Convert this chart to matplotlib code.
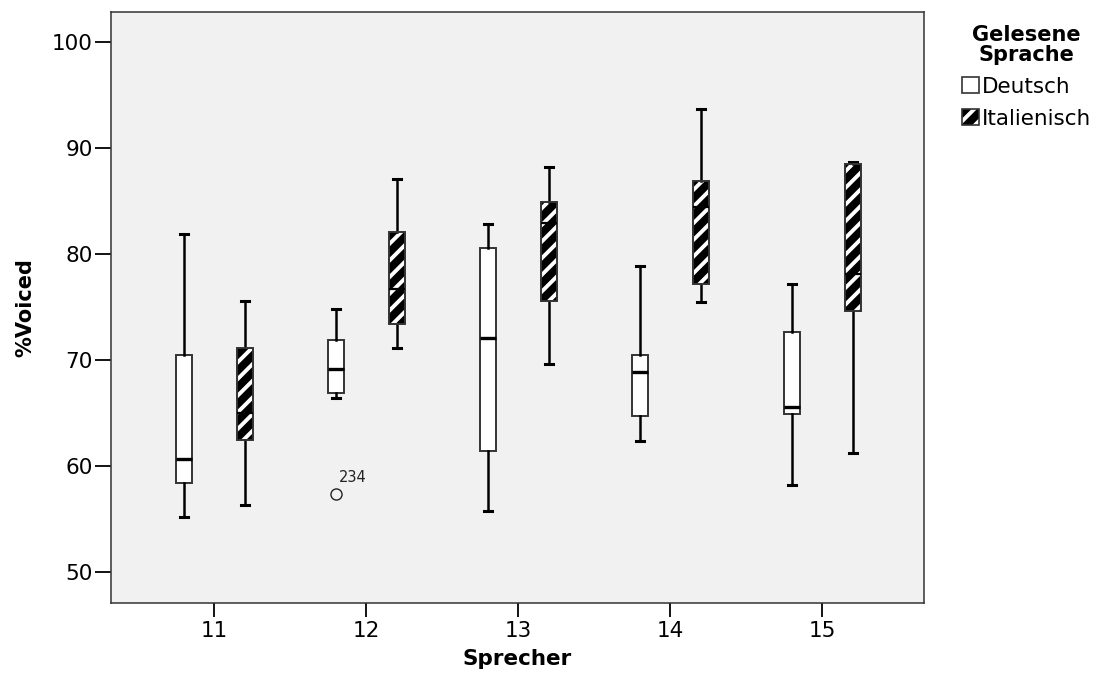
import matplotlib
matplotlib.use("Agg")
import matplotlib.pyplot as plt
from matplotlib.patches import Patch

# Five-number summaries (whisker low, Q1, median, Q3, whisker high)
speakers = [11, 12, 13, 14, 15]
deutsch_low = [55.2, 66.4, 55.8, 62.4, 58.2]
deutsch_q1 = [58.4, 66.9, 61.4, 64.7, 64.9]
deutsch_med = [60.7, 69.2, 72.1, 68.9, 65.6]
deutsch_q3 = [70.5, 71.9, 80.6, 70.5, 72.6]
deutsch_high = [81.9, 74.8, 82.8, 78.9, 77.2]
deutsch_outliers = [[], [57.4], [], [], []]
deutsch_outlier_ids = [[], ["234"], [], [], []]

ital_low = [56.3, 71.1, 69.6, 75.5, 61.2]
ital_q1 = [62.5, 73.4, 75.6, 77.2, 74.6]
ital_med = [65.0, 76.7, 82.9, 84.4, 78.1]
ital_q3 = [71.1, 82.1, 84.9, 86.9, 88.5]
ital_high = [75.6, 87.1, 88.2, 93.7, 88.7]

y_ticks = [50, 60, 70, 80, 90, 100]
legend_labels = ["Deutsch", "Italienisch"]


def make_stats(low, q1, med, q3, high, outliers=None):
    stats = []
    for i in range(len(low)):
        stats.append({
            "whislo": low[i], "q1": q1[i], "med": med[i],
            "q3": q3[i], "whishi": high[i],
            "fliers": outliers[i] if outliers else [],
        })
    return stats


plt.rcParams["hatch.linewidth"] = 2.8
plt.rcParams["font.family"] = "DejaVu Sans"

fig = plt.figure(figsize=(11.18, 6.87), dpi=100)
ax = fig.add_axes([0.0993, 0.1223, 0.7272, 0.8602])
ax.set_facecolor("#f0f1f0")

offset = 0.2
width = 0.105
pos_de = [s - offset for s in speakers]
pos_it = [s + offset for s in speakers]

whisk = dict(color="black", linewidth=1.8)
cap = dict(color="black", linewidth=2.2)
med = dict(color="black", linewidth=2.4)
flier = dict(marker="o", markersize=8, markerfacecolor="none",
             markeredgecolor="#222222", markeredgewidth=1.0)

# Deutsch: plain white boxes
ax.bxp(make_stats(deutsch_low, deutsch_q1, deutsch_med, deutsch_q3,
                  deutsch_high, deutsch_outliers),
       positions=pos_de, widths=width, patch_artist=True, showfliers=True,
       boxprops=dict(facecolor="white", edgecolor="#333333", linewidth=1.4),
       whiskerprops=whisk, capprops=cap, medianprops=med, flierprops=flier,
       capwidths=width * 0.5, manage_ticks=False)

# Italienisch: black boxes with white diagonal stripes, drawn twice for the outline
it_stats = make_stats(ital_low, ital_q1, ital_med, ital_q3, ital_high)
ax.bxp(it_stats, positions=pos_it, widths=width, patch_artist=True,
       showfliers=False,
       boxprops=dict(facecolor="black", edgecolor="white", hatch="//",
                     linewidth=0),
       whiskerprops=whisk, capprops=cap,
       medianprops=dict(color="black", linewidth=1.6),
       capwidths=width * 0.5, manage_ticks=False)
ax.bxp(it_stats, positions=pos_it, widths=width, patch_artist=True,
       showfliers=False, showcaps=False,
       boxprops=dict(facecolor="none", edgecolor="#333333", linewidth=1.4),
       whiskerprops=dict(linewidth=0), medianprops=dict(linewidth=0),
       manage_ticks=False)

# outlier case numbers
for p, vals, ids in zip(pos_de, deutsch_outliers, deutsch_outlier_ids):
    for v, lab in zip(vals, ids):
        ax.annotate(lab, (p, v), xytext=(2, 6), textcoords="offset points",
                    fontsize=10.5, color="#222222", va="bottom")

ax.set_xlim(10.32, 15.67)
ax.set_ylim(47.1, 102.8)
ax.set_xticks(speakers)
ax.set_xticklabels([str(s) for s in speakers])
ax.set_yticks(y_ticks)
ax.tick_params(axis="y", direction="out", length=11.5, width=1.3,
               labelsize=15.5, colors="black", pad=1.5)
ax.tick_params(axis="x", direction="out", length=10, width=1.3,
               labelsize=15.5, colors="black", pad=3)
for side in ["top", "right", "left", "bottom"]:
    ax.spines[side].set_color("#333333")
    ax.spines[side].set_linewidth(1.1)

ax.set_xlabel("Sprecher", fontsize=15.5, fontweight="bold", labelpad=6)
ax.set_ylabel("%Voiced", fontsize=15, fontweight="bold", labelpad=12)

h_de = Patch(facecolor="white", edgecolor="#333333", linewidth=1.2)
h_it_fill = Patch(facecolor="black", edgecolor="white", hatch="//",
                  linewidth=0)
h_it_edge = Patch(facecolor="none", edgecolor="#333333", linewidth=1.2)
leg = fig.legend([h_de, (h_it_fill, h_it_edge)], legend_labels,
                 title="Gelesene\nSprache", loc="upper left",
                 bbox_to_anchor=(0.843, 0.992), frameon=False,
                 fontsize=15.5, handlelength=0.8, handleheight=0.8,
                 handletextpad=0.15, labelspacing=0.55)
leg.get_title().set_fontweight("bold")
leg.get_title().set_fontsize(15)
leg.get_title().set_multialignment("center")
leg.get_title().set_linespacing(1.0)

fig.savefig("out.png", dpi=100)
